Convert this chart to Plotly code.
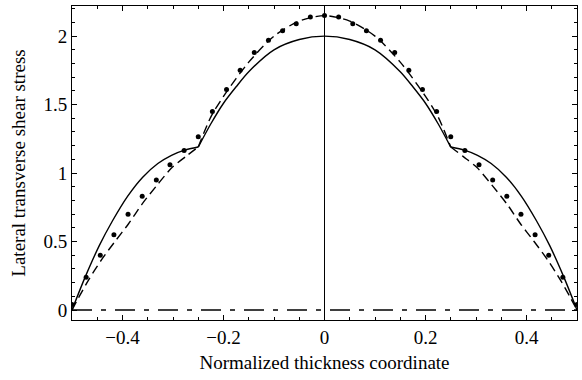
import plotly.graph_objects as go

# Solid curve (three smooth segments, kink at +/-0.25)
solid_left_x = [-0.5, -0.474, -0.446, -0.42, -0.39, -0.36, -0.33, -0.303, -0.277, -0.25]
solid_left_y = [0.0, 0.24, 0.47, 0.65, 0.83, 0.97, 1.07, 1.13, 1.168, 1.19]
solid_mid_x = [-0.25, -0.225, -0.2, -0.175, -0.15, -0.1, -0.05, 0.0, 0.05, 0.1, 0.15, 0.175, 0.2, 0.225, 0.25]
solid_mid_y = [1.19, 1.36, 1.51, 1.63, 1.74, 1.90, 1.975, 2.0, 1.975, 1.90, 1.74, 1.63, 1.51, 1.36, 1.19]
solid_right_x = [0.25, 0.277, 0.303, 0.33, 0.36, 0.39, 0.42, 0.446, 0.474, 0.5]
solid_right_y = [1.19, 1.168, 1.13, 1.07, 0.97, 0.83, 0.65, 0.47, 0.24, 0.0]

# Dashed curve
dash_left_x = [-0.5, -0.487, -0.467, -0.441, -0.415, -0.388, -0.362, -0.332, -0.302, -0.275, -0.25]
dash_left_y = [0.0, 0.09, 0.22, 0.37, 0.50, 0.63, 0.77, 0.91, 1.04, 1.12, 1.19]
dash_mid_x = [-0.25, -0.225, -0.2, -0.15, -0.1, -0.05, 0.0, 0.05, 0.1, 0.15, 0.2, 0.225, 0.25]
dash_mid_y = [1.19, 1.41, 1.56, 1.81, 2.00, 2.11, 2.15, 2.11, 2.00, 1.81, 1.56, 1.41, 1.19]
dash_right_x = [0.25, 0.275, 0.302, 0.332, 0.362, 0.388, 0.415, 0.441, 0.467, 0.487, 0.5]
dash_right_y = [1.19, 1.12, 1.04, 0.91, 0.77, 0.63, 0.50, 0.37, 0.22, 0.09, 0.0]

# Dotted (markers) series
dots_x = [-0.5, -0.472, -0.444, -0.417, -0.389, -0.361, -0.333, -0.306, -0.278, -0.25,
          -0.222, -0.194, -0.167, -0.139, -0.111, -0.083, -0.056, -0.028, 0.0,
          0.028, 0.056, 0.083, 0.111, 0.139, 0.167, 0.194, 0.222, 0.25,
          0.278, 0.306, 0.333, 0.361, 0.389, 0.417, 0.444, 0.472, 0.5]
dots_y = [0.04, 0.24, 0.40, 0.55, 0.70, 0.83, 0.95, 1.06, 1.165, 1.265,
          1.45, 1.61, 1.75, 1.88, 1.97, 2.04, 2.09, 2.14, 2.15,
          2.14, 2.09, 2.04, 1.97, 1.88, 1.75, 1.61, 1.45, 1.265,
          1.165, 1.06, 0.95, 0.83, 0.70, 0.55, 0.40, 0.24, 0.04]

# Dash-dot series (near zero)
dd_x = [-0.5, -0.25, 0.0, 0.25, 0.5]
dd_y = [0.0, 0.0, 0.0, 0.0, 0.0]

x_ticks = [-0.4, -0.2, 0, 0.2, 0.4]
x_ticklabels = ["\u22120.4", "\u22120.2", "0", "0.2", "0.4"]
y_ticks = [0, 0.5, 1, 1.5, 2]
y_ticklabels = ["0", "0.5", "1", "1.5", "2"]

FONT = "Liberation Serif, Times New Roman, serif"

fig = go.Figure()

for xs, ys in [(solid_left_x, solid_left_y), (solid_mid_x, solid_mid_y), (solid_right_x, solid_right_y)]:
    fig.add_trace(go.Scatter(x=xs, y=ys, mode="lines", line=dict(color="black", width=1.4, shape="spline", smoothing=0.8), showlegend=False))

for xs, ys in [(dash_left_x, dash_left_y), (dash_mid_x, dash_mid_y), (dash_right_x, dash_right_y)]:
    fig.add_trace(go.Scatter(x=xs, y=ys, mode="lines", line=dict(color="black", width=1.4, dash="9px,5px", shape="spline", smoothing=0.8), showlegend=False))

fig.add_trace(go.Scatter(x=dots_x, y=dots_y, mode="markers", marker=dict(color="black", size=5), showlegend=False))

fig.add_trace(go.Scatter(x=dd_x, y=dd_y, mode="lines", line=dict(color="black", width=1.3, dash="20px,9px,5px,9px"), showlegend=False))

fig.update_layout(
    width=582, height=380,
    margin=dict(l=72, r=5, t=6, b=60),
    paper_bgcolor="white", plot_bgcolor="white",
    font=dict(family=FONT, size=19, color="black"),
)
fig.update_xaxes(
    range=[-0.5, 0.5], tickvals=x_ticks, ticktext=x_ticklabels,
    showgrid=False, zeroline=True, zerolinecolor="black", zerolinewidth=1,
    showline=True, linecolor="black", linewidth=1, mirror="allticks",
    ticks="inside", ticklen=5, tickcolor="black",
    minor=dict(dtick=0.05, ticks="inside", ticklen=3, tickcolor="black", showgrid=False),
    title=dict(text="Normalized thickness coordinate", font=dict(family=FONT, size=19), standoff=8),
    tickfont=dict(family=FONT, size=19),
)
fig.update_yaxes(
    range=[-0.073, 2.22], tickvals=y_ticks, ticktext=y_ticklabels,
    showgrid=False, zeroline=False,
    showline=True, linecolor="black", linewidth=1, mirror="allticks",
    ticks="inside", ticklen=5, tickcolor="black",
    minor=dict(dtick=0.1, ticks="inside", ticklen=3, tickcolor="black", showgrid=False),
    title=dict(text="Lateral transverse shear stress", font=dict(family=FONT, size=19), standoff=12),
    tickfont=dict(family=FONT, size=19),
)

fig.write_html("out.html")
